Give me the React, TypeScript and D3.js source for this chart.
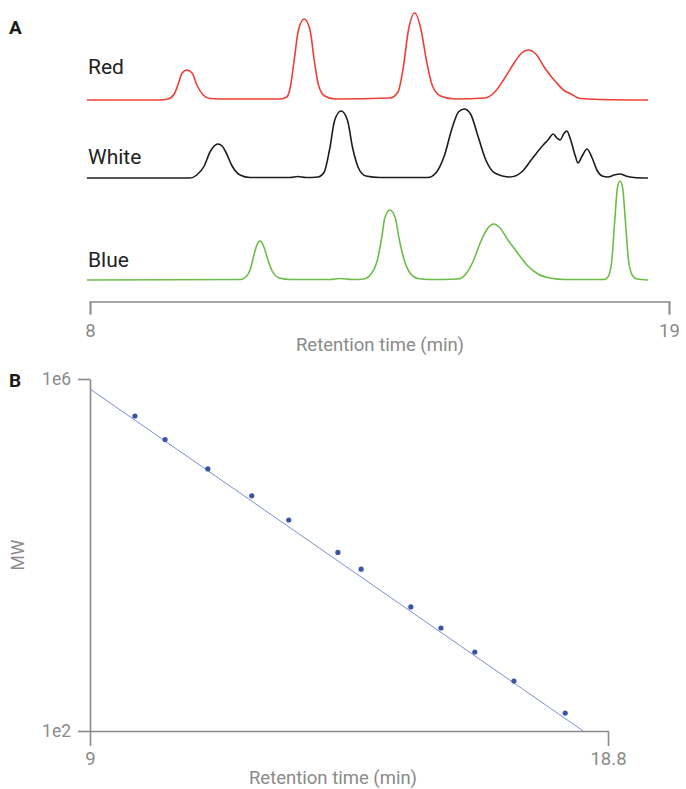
import React, { useEffect, useRef } from 'react';
import * as d3 from 'd3';

// chromatogram traces: [retention time (min), signal above baseline]
const redTrace: [number, number][] = [
  [7.94, 0], [9.33, 0], [9.48, 1], [9.6, 6], [9.67, 15], [9.75, 27], [9.84, 30], [9.94, 27],
  [10.03, 15], [10.15, 5], [10.28, 1.5], [10.66, 1], [11.61, 1], [11.74, 3], [11.81, 14],
  [11.88, 40], [11.96, 70], [12.07, 81], [12.18, 70], [12.26, 40], [12.34, 15], [12.46, 4],
  [12.65, 1], [13.7, 2], [13.85, 8], [13.95, 32], [14.05, 70], [14.17, 87], [14.29, 70],
  [14.39, 40], [14.5, 15], [14.66, 4], [14.93, 1], [15.5, 2], [15.69, 8], [15.88, 22],
  [16.07, 38], [16.2, 47], [16.33, 50], [16.47, 46], [16.64, 32], [16.85, 18], [17.02, 9],
  [17.14, 6], [17.31, 1.5], [17.69, 0.5], [18.6, 0],
];

const whiteTrace: [number, number][] = [
  [7.94, 0], [9.9, 0], [10.03, 3], [10.17, 12], [10.28, 26], [10.36, 32], [10.43, 34],
  [10.51, 32], [10.58, 26], [10.7, 12], [10.85, 3], [11.04, 0.5], [11.8, 0.5], [11.95, 1.5],
  [12.1, 0.5], [12.33, 1], [12.45, 6], [12.55, 28], [12.65, 58], [12.77, 67], [12.89, 58],
  [12.99, 30], [13.1, 10], [13.24, 2], [13.51, 0.5], [14.42, 0.5], [14.57, 5], [14.73, 22],
  [14.88, 50], [15.0, 66], [15.11, 69], [15.23, 64], [15.37, 42], [15.52, 18], [15.69, 5],
  [15.98, 1], [16.2, 6], [16.41, 20], [16.61, 33], [16.7, 38], [16.8, 44], [16.87, 40],
  [16.93, 38], [17.01, 45], [17.06, 47], [17.12, 40], [17.22, 22], [17.27, 15], [17.35, 22],
  [17.44, 29], [17.54, 20], [17.63, 8], [17.73, 2], [17.84, 1], [17.96, 3], [18.07, 4],
  [18.18, 2], [18.33, 0.5], [18.6, 0],
];

const blueTrace: [number, number][] = [
  [7.94, 0], [10.85, 0.5], [10.96, 3], [11.04, 10], [11.12, 26], [11.17, 35], [11.23, 39],
  [11.29, 35], [11.37, 22], [11.46, 9], [11.6, 2], [11.8, 0.5], [12.56, 0.5], [12.75, 1.5],
  [12.98, 0.5], [13.2, 1], [13.34, 6], [13.45, 18], [13.55, 45], [13.6, 62], [13.7, 70],
  [13.8, 62], [13.87, 42], [13.97, 20], [14.08, 7], [14.23, 1.5], [14.46, 0.5], [14.99, 1],
  [15.14, 6], [15.29, 20], [15.42, 38], [15.56, 52], [15.67, 56], [15.79, 52], [15.94, 40],
  [16.11, 28], [16.3, 15], [16.51, 6], [16.74, 2], [17.02, 0.5], [17.76, 0.5], [17.84, 3],
  [17.91, 18], [17.97, 60], [18.02, 92], [18.07, 99], [18.12, 92], [18.17, 60], [18.23, 20],
  [18.3, 5], [18.39, 1], [18.6, 0],
];

const traceNames = ['Red', 'White', 'Blue'];
const traceColors = ['#ef3e36', '#1c1c1c', '#6cbd48'];

// calibration standards: retention time (min) vs molecular weight
const calTimes = [9.85, 10.42, 11.23, 12.06, 12.76, 13.69, 14.13, 15.07, 15.64, 16.28, 17.02, 17.99];
const calMW = [380000, 205000, 95000, 47000, 25000, 10700, 6900, 2570, 1480, 790, 370, 160];
const fitLine: [number, number][] = [[9, 770000], [18.33, 100]];

const aTicks = [8, 19];
const bTicks = [9, 18.8];
const mwTicks = [100, 1e6];
const mwTickLabels = ['1e2', '1e6'];

const FONT = 'Roboto, sans-serif';
const GREY = '#8a8a8a';

const App = () => {
  const ref = useRef<SVGSVGElement>(null);

  useEffect(() => {
    const svg = d3.select(ref.current);
    svg.selectAll('*').remove();
    svg.attr('font-family', FONT);

    // ---- panel A ----
    const xA = d3.scaleLinear().domain([8, 19]).range([90, 669]);
    const sig = d3.scaleLinear().domain([0, 100]).range([0, -100]);
    const baselines = [100, 178, 280];
    const traces = [redTrace, whiteTrace, blueTrace];

    svg.append('text').attr('x', 9).attr('y', 34)
      .attr('font-size', 19).attr('font-weight', 700).attr('fill', '#1a1a1a').text('A');

    traces.forEach((tr, i) => {
      const g = svg.append('g').attr('transform', `translate(0,${baselines[i]})`);
      const line = d3.line<[number, number]>()
        .x(d => xA(d[0]))
        .y(d => sig(d[1]))
        .curve(d3.curveMonotoneX);
      g.append('path').datum(tr)
        .attr('d', line)
        .attr('fill', 'none')
        .attr('stroke', traceColors[i])
        .attr('stroke-width', 1.6)
        .attr('stroke-linejoin', 'round');
    });

    svg.selectAll('.trace-label')
      .data(traceNames)
      .enter().append('text')
      .attr('class', 'trace-label')
      .attr('x', 88)
      .attr('y', (d, i) => [74, 164, 267][i])
      .attr('font-size', 21)
      .attr('fill', '#222')
      .text(d => d);

    const axA = svg.append('g').attr('transform', 'translate(0,301.5)')
      .call(d3.axisBottom(xA).tickValues(aTicks).tickSize(13).tickSizeOuter(13).tickPadding(9)
        .tickFormat(d3.format('d')));
    styleAxis(axA, 18.5);

    svg.append('text').attr('x', 380).attr('y', 351).attr('text-anchor', 'middle')
      .attr('font-size', 18.5).attr('fill', GREY).text('Retention time (min)');

    // ---- panel B ----
    const xB = d3.scaleLinear().domain([9, 18.8]).range([90, 608]);
    const yB = d3.scaleLog().domain([100, 1e6]).range([731, 379]);

    svg.append('text').attr('x', 9).attr('y', 387)
      .attr('font-size', 19).attr('font-weight', 700).attr('fill', '#1a1a1a').text('B');

    const axBy = svg.append('g').attr('transform', 'translate(90,0)')
      .call(d3.axisLeft(yB).tickValues(mwTicks).tickSize(12).tickSizeOuter(0).tickPadding(7)
        .tickFormat((d, i) => mwTickLabels[i]));
    styleAxis(axBy, 17.5);

    const axBx = svg.append('g').attr('transform', 'translate(0,731)')
      .call(d3.axisBottom(xB).tickValues(bTicks).tickSize(15).tickSizeOuter(0).tickPadding(6)
        .tickFormat(d3.format('')));
    styleAxis(axBx, 18.5);

    svg.append('text').attr('x', 333).attr('y', 784).attr('text-anchor', 'middle')
      .attr('font-size', 18.5).attr('fill', GREY).text('Retention time (min)');

    svg.append('text')
      .attr('transform', 'translate(24,555) rotate(-90)')
      .attr('text-anchor', 'middle')
      .attr('font-size', 17.5).attr('fill', GREY).text('MW');

    svg.append('path').datum(fitLine)
      .attr('d', d3.line<[number, number]>().x(d => xB(d[0])).y(d => yB(d[1])))
      .attr('stroke', '#7c8fd4')
      .attr('stroke-width', 1)
      .attr('fill', 'none');

    svg.selectAll('.cal')
      .data(calTimes)
      .enter().append('circle')
      .attr('class', 'cal')
      .attr('cx', d => xB(d))
      .attr('cy', (d, i) => yB(calMW[i]))
      .attr('r', 2.6)
      .attr('fill', '#3a55a8');
  }, []);

  return (
    <svg ref={ref} width={686} height={789}
      style={{ position: 'absolute', left: 0, top: 0, background: '#fff' }} />
  );
};

function styleAxis(g: any, fs: number) {
  g.select('.domain').attr('stroke', GREY).attr('stroke-width', 1.6);
  g.selectAll('.tick line').attr('stroke', GREY).attr('stroke-width', 1.6);
  g.selectAll('.tick text').attr('fill', GREY).attr('font-size', fs).attr('font-family', FONT);
}

export default App;
